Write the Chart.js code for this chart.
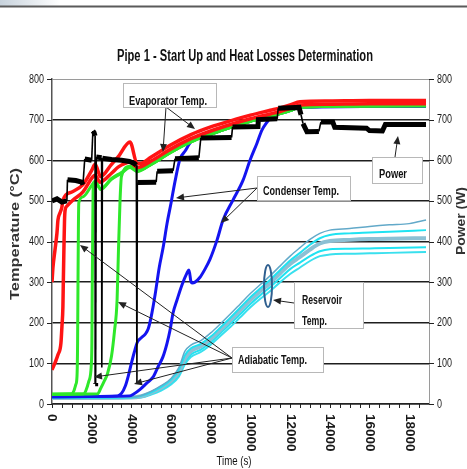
<!DOCTYPE html>
<html>
<head>
<meta charset="utf-8">
<script src="https://cdn.jsdelivr.net/npm/chart.js@4.4.0/dist/chart.umd.min.js"></script>
<style>
html, body { margin: 0; padding: 0; background: #fff; }
#wrap { width: 467px; height: 469px; }
</style>
</head>
<body>
<div id="wrap"><canvas id="chart" width="467" height="469"></canvas></div>
<script>
const sans = '"Liberation Sans", Arial, sans-serif';

// time (s) , temperature (C) / power (W)
const xTicks = [0, 2000, 4000, 6000, 8000, 10000, 12000, 14000, 16000, 18000];
const yTicks = [0, 100, 200, 300, 400, 500, 600, 700, 800];

const evapUpper = [[0,300],[50,337],[150,379],[250,421],[300,453],[400,470],[500,485],[550,502],[1000,522],[1560,540],[2000,575],[2170,590],[2450,560],[3000,590],[3330,608],[3930,645],[4280,593],[4440,592],[5000,608],[6000,638],[7000,663],[8000,682],[9000,697],[10000,711],[11000,723],[11500,729],[12000,736],[12500,744],[14000,746],[16000,747],[18850,747]];
const evapLower = [[0,84],[150,101],[300,121],[450,150],[500,190],[550,240],[570,300],[600,380],[630,450],[660,477],[750,487],[1060,502],[1560,522],[2070,560],[2170,563],[2420,546],[3000,568],[3330,583],[3930,595],[4300,582],[5000,598],[6000,628],[7000,653],[8000,672],[9000,688],[10000,702],[11000,714],[11500,720],[12000,728],[12500,736],[14000,738],[16000,739],[18850,739]];
const evapTail = [[5000,590],[6000,620],[7000,645],[8000,664],[9000,681],[10000,696],[11000,708],[12000,722],[12500,731],[18850,734]];
const evapGreen1 = [[0,24],[1000,25],[1100,32],[1200,48],[1260,68],[1290,150],[1310,300],[1330,430],[1350,495],[1560,510],[2000,538],[2170,548],[2450,528],[3000,553],[3500,568],[3930,582],[4300,572]].concat(evapTail);
const evapGreen2 = [[0,24],[1600,25],[1700,32],[1850,55],[1980,95],[2010,150],[2030,300],[2060,470],[2080,540],[2170,548],[2450,530],[3000,555],[3500,570],[3930,584],[4300,574]].concat(evapTail);
const evapGreen3 = [[0,24],[2300,25],[2450,38],[2650,58],[2800,75],[3000,118],[3150,180],[3280,256],[3350,379],[3430,502],[3500,560],[3930,585],[4300,575]].concat(evapTail);

const condenser1 = [[0,18],[3300,20],[3500,26],[3700,45],[3850,70],[4000,100],[4150,128],[4300,152],[4500,163],[4700,172],[4850,185],[5000,215],[5200,270],[5400,335],[5600,385],[5800,445],[6000,495],[6200,548],[6450,603],[6700,622],[7000,645],[8000,664],[9000,681],[10000,696],[11000,708],[12000,722],[12500,731],[18850,733]];
const condenser2 = [[0,18],[3900,20],[4100,24],[4440,36],[4790,52],[5090,66],[5340,91],[5590,116],[5800,150],[5950,182],[6100,224],[6300,256],[6550,293],[6800,322],[6900,330],[7000,302],[7060,298],[7210,300],[7460,312],[7710,332],[7960,356],[8320,404],[8620,453],[9120,502],[9630,551],[9980,600],[10330,642],[10580,674],[10840,694],[11100,710],[12000,724],[12500,731],[18850,733]];

const reservoir1 = [[0,16],[4000,17],[4500,21],[5000,31],[5500,45],[6000,63],[6400,90],[6700,130],[7000,145],[7500,156],[8000,175],[8500,198],[9000,222],[9500,247],[10000,272],[10500,294],[11000,316],[11500,340],[12000,364],[12500,385],[13000,405],[13500,420],[14000,428],[15000,432],[16000,437],[17000,441],[18000,444],[18850,453]];
const reservoir2 = [[0,15],[4000,16],[4500,20],[5000,29],[5500,42],[6000,60],[6400,85],[6700,120],[7000,137],[7500,148],[8000,166],[8500,189],[9000,213],[9500,238],[10000,263],[10500,285],[11000,306],[11500,330],[12000,353],[12500,372],[13000,392],[13500,408],[14000,416],[15000,420],[16000,422],[17000,424],[18850,428]];
const reservoir3 = [[0,15],[4000,16],[4500,19],[5000,28],[5500,40],[6000,57],[6400,80],[6700,112],[7000,130],[7500,142],[8000,160],[8500,183],[9000,207],[9500,232],[10000,256],[10500,278],[11000,298],[11500,322],[12000,345],[12500,362],[13000,380],[13500,395],[14000,401],[15000,404],[16000,406],[17000,407],[18850,408]];
const reservoir4 = [[0,14],[4000,15],[4500,17],[5000,25],[5500,36],[6000,52],[6400,74],[6700,104],[7000,122],[7500,134],[8000,152],[8500,175],[9000,198],[9500,222],[10000,246],[10500,268],[11000,288],[11500,310],[12000,332],[12500,348],[13000,364],[13500,376],[14000,381],[15000,382],[16000,383],[17000,384],[18850,386]];
const reservoir5 = [[0,14],[4000,15],[4500,16],[5000,23],[5500,33],[6000,48],[6400,68],[6700,98],[7000,116],[7500,128],[8000,146],[8500,168],[9000,190],[9500,214],[10000,238],[10500,259],[11000,278],[11500,300],[12000,320],[12500,336],[13000,352],[13500,364],[14000,368],[15000,370],[16000,371],[17000,372],[18850,374]];

const power = [[0,500],[250,505],[500,497],[750,500],[780,552],[1200,550],[1500,546],[1560,540],[1650,603],[2000,600],[2060,672],[2120,668],[2170,660],[2175,50],[2200,52],[2230,608],[2500,606],[2510,90],[2540,605],[3000,602],[3500,600],[3900,597],[4150,592],[4250,588],[4280,52],[4300,545],[5250,546],[5300,573],[6100,574],[6200,604],[7400,606],[7500,655],[9050,656],[9100,682],[10380,683],[10400,700],[11350,702],[11400,728],[12450,730],[12550,712],[12650,690],[12850,670],[13450,671],[13550,694],[14150,694],[14250,681],[15850,679],[16000,673],[16650,672],[16800,688],[18850,688]];

const toPoints = arr => arr.map(p => ({ x: p[0], y: p[1] }));

function series(label, data, color, width, axis) {
    return {
        label: label,
        data: toPoints(data),
        borderColor: color,
        borderWidth: width,
        pointRadius: 0,
        cubicInterpolationMode: 'monotone',
        fill: false,
        yAxisID: axis || 'y'
    };
}

const powerSet = series('Power', power, '#000', 5, 'y1');
powerSet.cubicInterpolationMode = 'default';
powerSet.tension = 0;
powerSet.segment = {
    borderWidth: ctx => Math.abs(ctx.p1.parsed.y - ctx.p0.parsed.y) > 20 ? 1.6 : 5
};

const datasets = [
    powerSet,
    series('Evaporator 1', evapUpper, '#ff1414', 3.5),
    series('Evaporator 2', evapLower, '#ff1414', 3.5),
    series('Adiabatic 1', evapGreen1, '#2ee82a', 3),
    series('Adiabatic 2', evapGreen2, '#2ee82a', 3),
    series('Adiabatic 3', evapGreen3, '#2ee82a', 3),
    series('Condenser 1', condenser1, '#1414f0', 3),
    series('Condenser 2', condenser2, '#1414f0', 3),
    series('Reservoir 1', reservoir1, '#62a9c9', 1.5),
    series('Reservoir 2', reservoir2, '#1fe3f2', 2),
    series('Reservoir 3', reservoir3, '#8cc0d4', 4),
    series('Reservoir 4', reservoir4, '#1fe3f2', 2),
    series('Reservoir 5', reservoir5, '#3ae0ee', 2)
];

const callouts = [
    { lines: ['Evaporator Temp.'], widths: [78], box: [123, 83, 93, 24], text: [129, 101], from: [166, 107], to: [[163, 152], [195, 129]] },
    { lines: ['Condenser Temp.'], widths: [76], box: [257, 176, 93, 24], text: [263, 191], from: [257, 188], to: [[176, 198], [221, 223]] },
    { lines: ['Power'], widths: [28], box: [372, 157, 50, 26], text: [379, 174], from: [395, 157], to: [[398, 136]] },
    { lines: ['Reservoir', 'Temp.'], widths: [40, 25], box: [294, 282, 69, 46], text: [302, 300], from: [294, 303], to: [[273, 300]] },
    { lines: ['Adiabatic Temp.'], widths: [69], box: [232, 347, 91, 25], text: [238, 360], from: [232, 358], to: [[80, 245], [118, 302], [94, 377], [134, 384]] }
];

// draw text squeezed horizontally to a given width (the original uses a narrow face)
function fitText(ctx, text, x, y, width, align, angle) {
    const w = ctx.measureText(text).width;
    ctx.save();
    ctx.translate(x, y);
    if (angle) ctx.rotate(angle);
    ctx.scale(width / w, 1);
    ctx.textAlign = align;
    ctx.fillText(text, 0, 0);
    ctx.restore();
}

function arrow(ctx, x0, y0, x1, y1) {
    const a = Math.atan2(y1 - y0, x1 - x0);
    ctx.beginPath();
    ctx.moveTo(x0, y0);
    ctx.lineTo(x1 - 5 * Math.cos(a), y1 - 5 * Math.sin(a));
    ctx.stroke();
    ctx.beginPath();
    ctx.moveTo(x1, y1);
    ctx.lineTo(x1 - 8 * Math.cos(a) + 3.5 * Math.sin(a), y1 - 8 * Math.sin(a) - 3.5 * Math.cos(a));
    ctx.lineTo(x1 - 8 * Math.cos(a) - 3.5 * Math.sin(a), y1 - 8 * Math.sin(a) + 3.5 * Math.cos(a));
    ctx.closePath();
    ctx.fill();
}

const decor = {
    id: 'decor',
    beforeDraw(chart) {
        const ctx = chart.ctx;
        ctx.save();
        const g = ctx.createLinearGradient(0, 0, 60, 0);
        g.addColorStop(0, '#c7d2dc');
        g.addColorStop(1, '#ffffff');
        ctx.fillStyle = g;
        ctx.fillRect(0, 0, 60, 6);
        ctx.strokeStyle = '#5a5a5a';
        ctx.lineWidth = 2;
        ctx.beginPath();
        ctx.moveTo(0, 6.5);
        ctx.lineTo(467, 6.5);
        ctx.stroke();
        ctx.restore();
    },
    afterDraw(chart) {
        const { ctx, chartArea, scales } = chart;
        const xs = scales.x, ys = scales.y, yp = scales.y1;
        ctx.save();
        ctx.strokeStyle = '#222';
        ctx.lineWidth = 1;
        // tick marks
        ctx.beginPath();
        for (let v = 0; v <= 18500; v += 500) {
            const px = Math.round(xs.getPixelForValue(v)) + 0.5;
            ctx.moveTo(px, chartArea.bottom);
            ctx.lineTo(px, chartArea.bottom + 4);
        }
        yTicks.forEach(v => {
            const py = Math.round(ys.getPixelForValue(v)) + 0.5;
            ctx.moveTo(chartArea.left - 5, py);
            ctx.lineTo(chartArea.left, py);
            const pr = Math.round(yp.getPixelForValue(v)) + 0.5;
            ctx.moveTo(chartArea.right, pr);
            ctx.lineTo(chartArea.right + 5, pr);
        });
        ctx.stroke();

        // tick labels
        ctx.fillStyle = '#1a1a1a';
        ctx.font = '13px ' + sans;
        ctx.textBaseline = 'middle';
        yTicks.forEach(v => {
            const s = String(v);
            fitText(ctx, s, chartArea.left - 8, ys.getPixelForValue(v), 5 * s.length, 'right');
            fitText(ctx, s, chartArea.right + 8, yp.getPixelForValue(v), 5 * s.length, 'left');
        });
        ctx.font = 'bold 13px ' + sans;
        xTicks.forEach(v => {
            const s = String(v);
            fitText(ctx, s, xs.getPixelForValue(v), chartArea.bottom + 10, 7.5 * s.length, 'left', Math.PI / 2);
        });

        // titles
        ctx.font = 'bold 16px ' + sans;
        ctx.fillStyle = '#111';
        fitText(ctx, 'Pipe 1 - Start Up and Heat Losses Determination', 245, 57, 256, 'center');
        ctx.font = '13px ' + sans;
        fitText(ctx, 'Time (s)', 234, 461, 35, 'center');
        ctx.font = 'bold 13px ' + sans;
        ctx.fillStyle = '#333';
        fitText(ctx, 'Temperature (\u00b0C)', 15, 234, 132, 'center', -Math.PI / 2);
        fitText(ctx, 'Power (W)', 461, 221, 68, 'center', -Math.PI / 2);

        // reservoir ellipse
        ctx.strokeStyle = '#2f5f8f';
        ctx.lineWidth = 2;
        ctx.beginPath();
        ctx.ellipse(268, 286, 4, 21, 0, 0, Math.PI * 2);
        ctx.stroke();

        // callouts
        callouts.forEach(c => {
            ctx.strokeStyle = '#222';
            ctx.fillStyle = '#222';
            ctx.lineWidth = 1;
            c.to.forEach(t => arrow(ctx, c.from[0], c.from[1], t[0], t[1]));
            ctx.fillStyle = '#fff';
            ctx.fillRect(c.box[0], c.box[1], c.box[2], c.box[3]);
            ctx.strokeStyle = '#b8b8b8';
            ctx.strokeRect(c.box[0] + 0.5, c.box[1] + 0.5, c.box[2], c.box[3]);
            ctx.fillStyle = '#111';
            ctx.font = 'bold 13px ' + sans;
            ctx.textBaseline = 'middle';
            c.lines.forEach((s, i) => fitText(ctx, s, c.text[0], c.text[1] + i * 21, c.widths[i], 'left'));
        });
        ctx.restore();
    }
};

new Chart(document.getElementById('chart').getContext('2d'), {
    type: 'line',
    data: { datasets: datasets },
    options: {
        responsive: false,
        animation: false,
        layout: { padding: { left: 52, right: 38, top: 79, bottom: 65 } },
        plugins: { legend: { display: false }, tooltip: { enabled: false }, title: { display: false } },
        scales: {
            x: {
                type: 'linear', min: 0, max: 19000,
                grid: { display: false, drawTicks: false },
                ticks: { display: false },
                border: { display: true, color: '#222', width: 1.5 }
            },
            y: {
                min: 0, max: 800,
                grid: {
                    drawTicks: false,
                    color: ctx => ctx.tick.value === 800 ? '#9a9a9a' : '#1e1e1e',
                    lineWidth: ctx => ctx.tick.value === 800 ? 1 : 1.4
                },
                ticks: { display: false, stepSize: 100 },
                border: { display: true, color: '#555', width: 1.5 }
            },
            y1: {
                position: 'right', min: 0, max: 800,
                grid: { display: false, drawTicks: false },
                ticks: { display: false, stepSize: 100 },
                border: { display: true, color: '#9a9a9a', width: 1 }
            }
        }
    },
    plugins: [decor]
});
</script>
</body>
</html>
